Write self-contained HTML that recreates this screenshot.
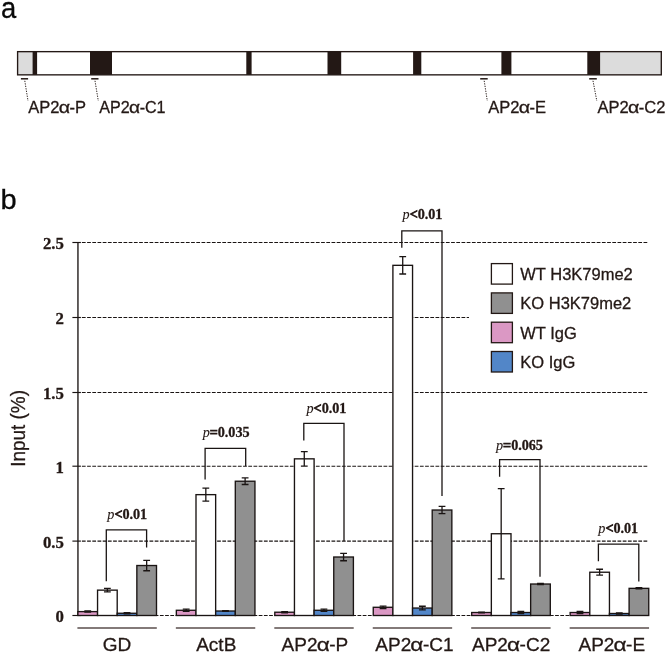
<!DOCTYPE html><html><head><meta charset="utf-8"><title>Figure</title>
<style>html,body{margin:0;padding:0;background:#fff;}svg{display:block;font-family:"Liberation Sans",sans-serif;}text{fill:#231815;stroke:#231815;stroke-width:0.3px;}.s{font-family:"Liberation Serif",serif;}.i{stroke-width:0.1px;}.lt{stroke-width:0.7px;}.b{font-weight:bold;}.i{font-style:italic;}</style></head><body>
<svg width="666" height="654" viewBox="0 0 666 654">
<rect width="666" height="654" fill="#fff"/>
<text transform="translate(0.9,17.5) scale(0.92,1)" font-size="29.8" style="fill:#0a0a0a;stroke:#0a0a0a">a</text>
<text transform="translate(0.55,208.7) scale(1.02,1)" font-size="28.5" style="fill:#0a0a0a;stroke:#0a0a0a">b</text>
<rect x="17.6" y="51.65" width="643.6999999999999" height="23.199999999999996" fill="#fff"/>
<rect x="17.6" y="51.65" width="15.600000000000001" height="23.199999999999996" fill="#dcdcdc"/>
<rect x="600" y="51.65" width="61.299999999999955" height="23.199999999999996" fill="#dcdcdc"/>
<rect x="32.6" y="51.65" width="4.5" height="23.199999999999996" fill="#231815"/>
<rect x="90.0" y="51.65" width="22.0" height="23.199999999999996" fill="#231815"/>
<rect x="246.3" y="51.65" width="5.299999999999983" height="23.199999999999996" fill="#231815"/>
<rect x="327.5" y="51.65" width="13.699999999999989" height="23.199999999999996" fill="#231815"/>
<rect x="413.1" y="51.65" width="8.199999999999989" height="23.199999999999996" fill="#231815"/>
<rect x="501.4" y="51.65" width="10.0" height="23.199999999999996" fill="#231815"/>
<rect x="587.3" y="51.65" width="12.800000000000068" height="23.199999999999996" fill="#231815"/>
<rect x="17.6" y="51.65" width="643.6999999999999" height="23.199999999999996" fill="none" stroke="#231815" stroke-width="1.35"/>
<line x1="20.9" y1="78.8" x2="28.1" y2="78.8" stroke="#231815" stroke-width="1.5"/>
<line x1="24.8" y1="80.8" x2="28" y2="100.9" stroke="#231815" stroke-width="0.95" stroke-dasharray="1.3 1.2"/>
<line x1="91.2" y1="78.8" x2="98.5" y2="78.8" stroke="#231815" stroke-width="1.5"/>
<line x1="95" y1="80.8" x2="98.3" y2="100.9" stroke="#231815" stroke-width="0.95" stroke-dasharray="1.3 1.2"/>
<line x1="480.2" y1="78.8" x2="487.7" y2="78.8" stroke="#231815" stroke-width="1.5"/>
<line x1="484.2" y1="80.8" x2="487.3" y2="100.9" stroke="#231815" stroke-width="0.95" stroke-dasharray="1.3 1.2"/>
<line x1="589.2" y1="78.8" x2="596.8" y2="78.8" stroke="#231815" stroke-width="1.5"/>
<line x1="593" y1="80.8" x2="596.8" y2="100.9" stroke="#231815" stroke-width="0.95" stroke-dasharray="1.3 1.2"/>
<text x="28.20" y="113" font-size="16.5">AP2</text>
<text transform="translate(58.64,113) scale(1.19,1)" font-size="16.5">α</text>
<text x="69.53" y="113" font-size="16.5">-P</text>
<text x="99.30" y="113" font-size="16.1">AP2</text>
<text transform="translate(129.00,113) scale(1.19,1)" font-size="16.1">α</text>
<text x="139.63" y="113" font-size="16.1">-C1</text>
<text x="488.20" y="113" font-size="16.5">AP2</text>
<text transform="translate(518.64,113) scale(1.19,1)" font-size="16.5">α</text>
<text x="529.53" y="113" font-size="16.5">-E</text>
<text x="597.50" y="113" font-size="16.5">AP2</text>
<text transform="translate(627.94,113) scale(1.19,1)" font-size="16.5">α</text>
<text x="638.83" y="113" font-size="16.5">-C2</text>
<line x1="72.4" y1="615.5" x2="80.9" y2="615.5" stroke="#1a1413" stroke-width="1.15"/>
<line x1="81.9" y1="615.5" x2="647.8" y2="615.5" stroke="#1a1413" stroke-width="1.15" stroke-dasharray="3.75 1.45"/>
<line x1="72.4" y1="541.1" x2="80.9" y2="541.1" stroke="#1a1413" stroke-width="1.15"/>
<line x1="81.9" y1="541.1" x2="647.8" y2="541.1" stroke="#1a1413" stroke-width="1.15" stroke-dasharray="3.75 1.45"/>
<line x1="72.4" y1="466.2" x2="80.9" y2="466.2" stroke="#1a1413" stroke-width="1.15"/>
<line x1="81.9" y1="466.2" x2="647.8" y2="466.2" stroke="#1a1413" stroke-width="1.15" stroke-dasharray="3.75 1.45"/>
<line x1="72.4" y1="392.5" x2="80.9" y2="392.5" stroke="#1a1413" stroke-width="1.15"/>
<line x1="81.9" y1="392.5" x2="647.8" y2="392.5" stroke="#1a1413" stroke-width="1.15" stroke-dasharray="3.75 1.45"/>
<line x1="72.4" y1="317.5" x2="80.9" y2="317.5" stroke="#1a1413" stroke-width="1.15"/>
<line x1="81.9" y1="317.5" x2="469" y2="317.5" stroke="#1a1413" stroke-width="1.15" stroke-dasharray="3.75 1.45"/>
<line x1="72.4" y1="242.5" x2="80.9" y2="242.5" stroke="#1a1413" stroke-width="1.15"/>
<line x1="81.9" y1="242.5" x2="647.8" y2="242.5" stroke="#1a1413" stroke-width="1.15" stroke-dasharray="3.75 1.45"/>
<line x1="77.95" y1="242.5" x2="77.95" y2="615.5" stroke="#1a1413" stroke-width="1.35"/>
<text class="s b" x="63.9" y="622.2" font-size="16.8" text-anchor="end">0</text>
<text class="s b" x="63.9" y="548.0" font-size="16.8" text-anchor="end">0.5</text>
<text class="s b" x="63.9" y="473.3" font-size="16.8" text-anchor="end">1</text>
<text class="s b" x="63.9" y="398.6" font-size="16.8" text-anchor="end">1.5</text>
<text class="s b" x="63.9" y="324.1" font-size="16.8" text-anchor="end">2</text>
<text class="s b" x="63.9" y="249.3" font-size="16.8" text-anchor="end">2.5</text>
<text transform="translate(24.5,428.4) rotate(-90) scale(0.915,1)" font-size="20.7" text-anchor="middle">Input (%)</text>
<rect x="77.90" y="611.62" width="19.65" height="3.88" fill="#db98c4" stroke="#1a1413" stroke-width="1.35"/>
<path d="M87.73 611.02V612.22M84.33 611.02h6.8M84.33 612.22h6.8" stroke="#1a1413" stroke-width="1.3" fill="none"/>
<rect x="97.55" y="590.14" width="19.65" height="25.36" fill="#ffffff" stroke="#1a1413" stroke-width="1.35"/>
<path d="M107.38 588.35V591.93M103.98 588.35h6.8M103.98 591.93h6.8" stroke="#1a1413" stroke-width="1.3" fill="none"/>
<rect x="117.20" y="613.26" width="19.65" height="2.24" fill="#5286c8" stroke="#1a1413" stroke-width="1.35"/>
<path d="M127.03 612.67V613.86M123.62 612.67h6.8M123.62 613.86h6.8" stroke="#1a1413" stroke-width="1.3" fill="none"/>
<rect x="136.85" y="565.52" width="19.65" height="49.98" fill="#909090" stroke="#1a1413" stroke-width="1.35"/>
<path d="M146.67 560.30V570.74M143.27 560.30h6.8M143.27 570.74h6.8" stroke="#1a1413" stroke-width="1.3" fill="none"/>
<line x1="77.40" y1="628" x2="156.80" y2="628" stroke="#5a4e4c" stroke-width="1.3"/>
<text x="102.85" y="651.4" font-size="19">GD</text>
<rect x="176.35" y="610.28" width="19.65" height="5.22" fill="#db98c4" stroke="#1a1413" stroke-width="1.35"/>
<path d="M186.18 609.08V611.47M182.78 609.08h6.8M182.78 611.47h6.8" stroke="#1a1413" stroke-width="1.3" fill="none"/>
<rect x="196.00" y="494.65" width="19.65" height="120.85" fill="#ffffff" stroke="#1a1413" stroke-width="1.35"/>
<path d="M205.83 488.08V501.21M202.43 488.08h6.8M202.43 501.21h6.8" stroke="#1a1413" stroke-width="1.3" fill="none"/>
<rect x="215.65" y="611.02" width="19.65" height="4.48" fill="#5286c8" stroke="#1a1413" stroke-width="1.35"/>
<path d="M225.48 610.58V611.47M222.08 610.58h6.8M222.08 611.47h6.8" stroke="#1a1413" stroke-width="1.3" fill="none"/>
<rect x="235.30" y="481.22" width="19.65" height="134.28" fill="#909090" stroke="#1a1413" stroke-width="1.35"/>
<path d="M245.12 477.94V484.50M241.72 477.94h6.8M241.72 484.50h6.8" stroke="#1a1413" stroke-width="1.3" fill="none"/>
<line x1="175.85" y1="628" x2="255.25" y2="628" stroke="#5a4e4c" stroke-width="1.3"/>
<text x="196.2" y="651.4" font-size="19">ActB</text>
<rect x="274.80" y="612.22" width="19.65" height="3.28" fill="#db98c4" stroke="#1a1413" stroke-width="1.35"/>
<path d="M284.62 611.62V612.81M281.23 611.62h6.8M281.23 612.81h6.8" stroke="#1a1413" stroke-width="1.3" fill="none"/>
<rect x="294.45" y="458.84" width="19.65" height="156.66" fill="#ffffff" stroke="#1a1413" stroke-width="1.35"/>
<path d="M304.27 451.53V466.15M300.88 451.53h6.8M300.88 466.15h6.8" stroke="#1a1413" stroke-width="1.3" fill="none"/>
<rect x="314.10" y="610.28" width="19.65" height="5.22" fill="#5286c8" stroke="#1a1413" stroke-width="1.35"/>
<path d="M323.93 609.08V611.47M320.53 609.08h6.8M320.53 611.47h6.8" stroke="#1a1413" stroke-width="1.3" fill="none"/>
<rect x="333.75" y="557.01" width="19.65" height="58.49" fill="#909090" stroke="#1a1413" stroke-width="1.35"/>
<path d="M343.57 553.28V560.74M340.18 553.28h6.8M340.18 560.74h6.8" stroke="#1a1413" stroke-width="1.3" fill="none"/>
<line x1="274.30" y1="628" x2="353.70" y2="628" stroke="#5a4e4c" stroke-width="1.3"/>
<text x="281.60" y="651.4" font-size="19">AP2</text>
<text transform="translate(316.66,651.4) scale(1.19,1)" font-size="19">α</text>
<text x="329.20" y="651.4" font-size="19">-P</text>
<rect x="373.25" y="607.29" width="19.65" height="8.21" fill="#db98c4" stroke="#1a1413" stroke-width="1.35"/>
<path d="M383.07 606.10V608.49M379.68 606.10h6.8M379.68 608.49h6.8" stroke="#1a1413" stroke-width="1.3" fill="none"/>
<rect x="392.90" y="265.33" width="19.65" height="350.17" fill="#ffffff" stroke="#1a1413" stroke-width="1.35"/>
<path d="M402.72 256.67V273.98M399.32 256.67h6.8M399.32 273.98h6.8" stroke="#1a1413" stroke-width="1.3" fill="none"/>
<rect x="412.55" y="608.04" width="19.65" height="7.46" fill="#5286c8" stroke="#1a1413" stroke-width="1.35"/>
<path d="M422.38 606.25V609.83M418.98 606.25h6.8M418.98 609.83h6.8" stroke="#1a1413" stroke-width="1.3" fill="none"/>
<rect x="432.20" y="510.02" width="19.65" height="105.48" fill="#909090" stroke="#1a1413" stroke-width="1.35"/>
<path d="M442.02 506.43V513.60M438.62 506.43h6.8M438.62 513.60h6.8" stroke="#1a1413" stroke-width="1.3" fill="none"/>
<line x1="372.75" y1="628" x2="452.15" y2="628" stroke="#5a4e4c" stroke-width="1.3"/>
<text x="375.30" y="651.4" font-size="19">AP2</text>
<text transform="translate(410.36,651.4) scale(1.19,1)" font-size="19">α</text>
<text x="422.89" y="651.4" font-size="19">-C1</text>
<rect x="471.70" y="612.52" width="19.65" height="2.98" fill="#db98c4" stroke="#1a1413" stroke-width="1.35"/>
<path d="M481.53 612.22V612.81M478.13 612.22h6.8M478.13 612.81h6.8" stroke="#1a1413" stroke-width="1.3" fill="none"/>
<rect x="491.35" y="533.74" width="19.65" height="81.76" fill="#ffffff" stroke="#1a1413" stroke-width="1.35"/>
<path d="M501.18 488.68V578.80M497.78 488.68h6.8M497.78 578.80h6.8" stroke="#1a1413" stroke-width="1.3" fill="none"/>
<rect x="511.00" y="612.52" width="19.65" height="2.98" fill="#5286c8" stroke="#1a1413" stroke-width="1.35"/>
<path d="M520.83 611.32V613.71M517.43 611.32h6.8M517.43 613.71h6.8" stroke="#1a1413" stroke-width="1.3" fill="none"/>
<rect x="530.65" y="584.02" width="19.65" height="31.48" fill="#909090" stroke="#1a1413" stroke-width="1.35"/>
<path d="M540.48 583.42V584.62M537.08 583.42h6.8M537.08 584.62h6.8" stroke="#1a1413" stroke-width="1.3" fill="none"/>
<line x1="471.20" y1="628" x2="550.60" y2="628" stroke="#5a4e4c" stroke-width="1.3"/>
<text x="472.00" y="651.4" font-size="19">AP2</text>
<text transform="translate(507.06,651.4) scale(1.19,1)" font-size="19">α</text>
<text x="519.60" y="651.4" font-size="19">-C2</text>
<rect x="570.15" y="612.52" width="19.65" height="2.98" fill="#db98c4" stroke="#1a1413" stroke-width="1.35"/>
<path d="M579.98 611.32V613.71M576.58 611.32h6.8M576.58 613.71h6.8" stroke="#1a1413" stroke-width="1.3" fill="none"/>
<rect x="589.80" y="572.23" width="19.65" height="43.27" fill="#ffffff" stroke="#1a1413" stroke-width="1.35"/>
<path d="M599.62 569.25V575.22M596.23 569.25h6.8M596.23 575.22h6.8" stroke="#1a1413" stroke-width="1.3" fill="none"/>
<rect x="609.45" y="613.50" width="19.65" height="2.00" fill="#5286c8" stroke="#1a1413" stroke-width="1.35"/>
<path d="M619.27 612.90V614.10M615.88 612.90h6.8M615.88 614.10h6.8" stroke="#1a1413" stroke-width="1.3" fill="none"/>
<rect x="629.10" y="588.35" width="19.65" height="27.15" fill="#909090" stroke="#1a1413" stroke-width="1.35"/>
<path d="M638.93 587.75V588.94M635.53 587.75h6.8M635.53 588.94h6.8" stroke="#1a1413" stroke-width="1.3" fill="none"/>
<line x1="569.65" y1="628" x2="649.05" y2="628" stroke="#5a4e4c" stroke-width="1.3"/>
<text x="578.50" y="651.4" font-size="19">AP2</text>
<text transform="translate(613.55,651.4) scale(1.19,1)" font-size="19">α</text>
<text x="626.10" y="651.4" font-size="19">-E</text>
<path d="M106.3 581.2V529.90H146.6V547.5" fill="none" stroke="#1a1413" stroke-width="1.3"/>
<text class="s" transform="translate(107.34,519) scale(1.0,1)" font-size="14.2"><tspan class="i">p</tspan><tspan class="b lt">&lt;</tspan><tspan class="b" letter-spacing="-0.05">0.01</tspan></text>
<path d="M205.1 479.6V448.30H245.7V465.9" fill="none" stroke="#1a1413" stroke-width="1.3"/>
<text class="s" transform="translate(202.64,437) scale(1.0,1)" font-size="14.2"><tspan class="i">p</tspan><tspan class="b lt">=</tspan><tspan class="b" letter-spacing="-0.05">0.035</tspan></text>
<path d="M303.8 440.5V423.40H344.0V541.0" fill="none" stroke="#1a1413" stroke-width="1.3"/>
<text class="s" transform="translate(306.44,413) scale(1.0,1)" font-size="14.2"><tspan class="i">p</tspan><tspan class="b lt">&lt;</tspan><tspan class="b" letter-spacing="-0.05">0.01</tspan></text>
<path d="M401.8 247.7V230.80H442.0V495.9" fill="none" stroke="#1a1413" stroke-width="1.3"/>
<text class="s" transform="translate(402.54,219) scale(1.0,1)" font-size="14.2"><tspan class="i">p</tspan><tspan class="b lt">&lt;</tspan><tspan class="b" letter-spacing="-0.05">0.01</tspan></text>
<path d="M499.6 476.7V459.70H540.0V576.8" fill="none" stroke="#1a1413" stroke-width="1.3"/>
<text class="s" transform="translate(495.94,450) scale(1.0,1)" font-size="14.2"><tspan class="i">p</tspan><tspan class="b lt">=</tspan><tspan class="b" letter-spacing="-0.05">0.065</tspan></text>
<path d="M598.4 561.3V544.20H638.8V581.4" fill="none" stroke="#1a1413" stroke-width="1.3"/>
<text class="s" transform="translate(598.34,533) scale(1.0,1)" font-size="14.2"><tspan class="i">p</tspan><tspan class="b lt">&lt;</tspan><tspan class="b" letter-spacing="-0.05">0.01</tspan></text>
<rect x="491.4" y="263.60" width="21" height="20.5" fill="#ffffff" stroke="#231815" stroke-width="1.3"/>
<text x="520.3" y="279.90" font-size="16.5">WT H3K79me2</text>
<rect x="491.4" y="292.90" width="21" height="20.5" fill="#909090" stroke="#231815" stroke-width="1.3"/>
<text x="520.3" y="309.20" font-size="16.5">KO H3K79me2</text>
<rect x="491.4" y="322.20" width="21" height="20.5" fill="#db98c4" stroke="#231815" stroke-width="1.3"/>
<text x="520.3" y="338.50" font-size="16.5">WT IgG</text>
<rect x="491.4" y="351.50" width="21" height="20.5" fill="#5286c8" stroke="#231815" stroke-width="1.3"/>
<text x="520.3" y="367.80" font-size="16.5">KO IgG</text>
</svg></body></html>
